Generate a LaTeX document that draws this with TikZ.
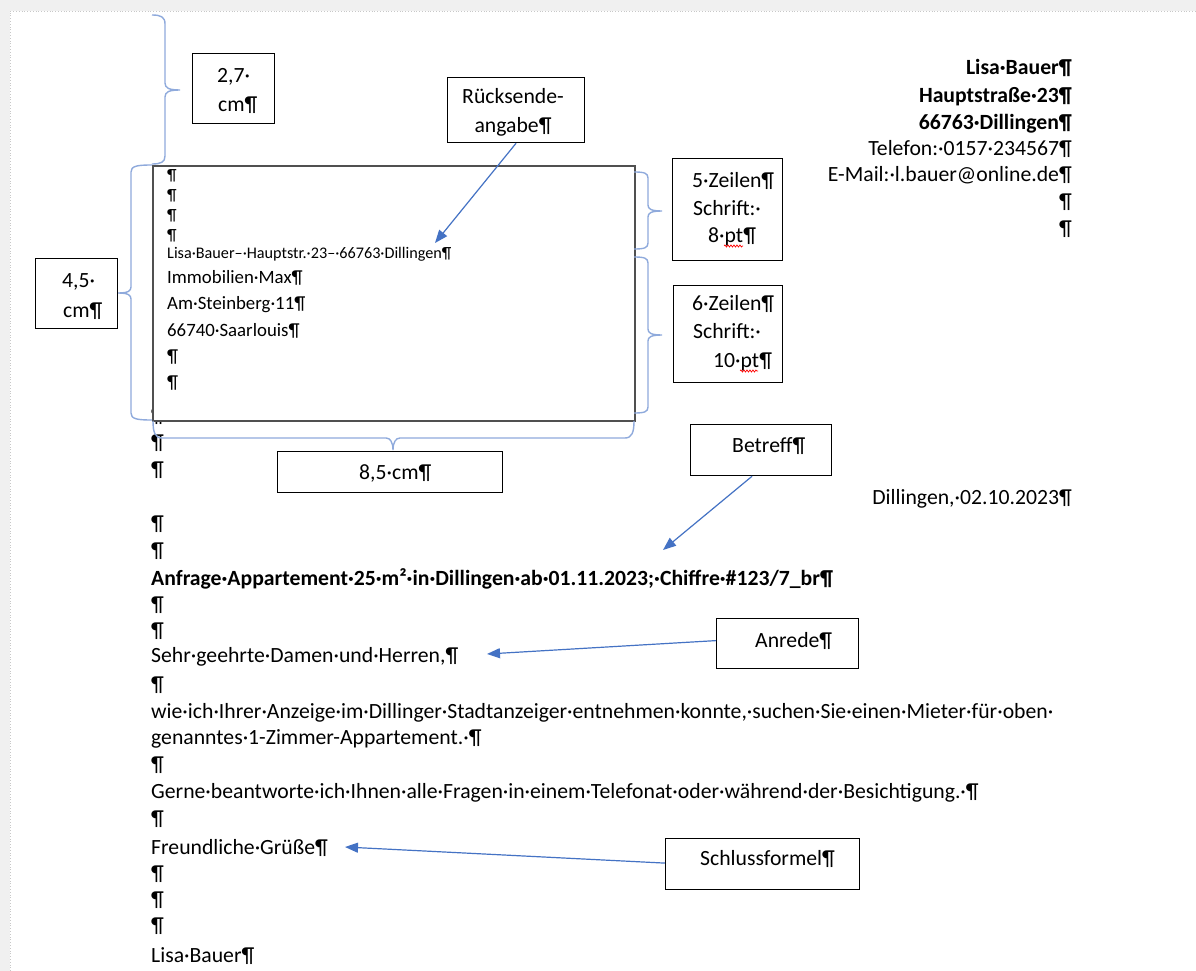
\documentclass[tikz,border=0pt]{standalone}
\usepackage{fontspec}
\setmainfont{Carlito}
\usetikzlibrary{arrows.meta,decorations.pathmorphing}
\definecolor{pagegrey}{HTML}{F0F0F0}
\definecolor{edgegrey}{HTML}{C8C8C8}
\definecolor{bracecol}{HTML}{8FAADC}
\definecolor{arrowcol}{HTML}{4472C4}
\definecolor{framecol}{HTML}{505050}
\begin{document}
\begin{tikzpicture}[x=1pt,y=-1pt,
  every node/.style={inner sep=0pt, font=\fontsize{21.7}{26}\selectfont},
  txt/.style={anchor=base west},
  rtxt/.style={anchor=base east},
  ctxt/.style={anchor=base},
  win/.style={font=\fontsize{18.8}{23}\selectfont},
  small/.style={font=\fontsize{16.2}{19}\selectfont},
  bold/.style={font=\fontsize{21.7}{26}\selectfont\bfseries},
  lbox/.style={draw=black, line width=1.2pt, anchor=north west},
  brace/.style={draw=bracecol, line width=1.4pt},
  conn/.style={draw=arrowcol, line width=1.2pt, -{Triangle[length=13pt,width=10pt]}},
  wavy/.style={draw=red, line width=0.7pt, decorate, decoration={snake, amplitude=1pt, segment length=3pt}}
]
\useasboundingbox (0,0) rectangle (1196,971);
% page
\fill[pagegrey] (0,0) rectangle (1196,971);
\fill[white] (10,11) rectangle (1196,971);
\draw[edgegrey, dotted, line width=0.8pt] (10,971) -- (10,11) -- (1196,11);

% body paragraphs (left)
\node[txt] (q0) at (151,422) {¶};
\node[txt] (q1) at (151,449) {¶};
\node[txt] (q2) at (151,476) {¶};
\node[txt] (q3) at (151,530) {¶};
\node[txt] (q4) at (151,557) {¶};
\node[txt,bold] (betrefftext) at (151,585) {Anfrage·Appartement·25·m²·in·Dillingen·ab·01.11.2023;·Chiffre·\#123/7\_br¶};
\node[txt] (q5) at (151,611) {¶};
\node[txt] (q6) at (151,637) {¶};
\node[txt] (anredetext) at (151,662) {Sehr·geehrte·Damen·und·Herren,¶};
\node[txt] (q7) at (151,691) {¶};
\node[txt] (l1) at (151,718) {wie·ich·Ihrer·Anzeige·im·Dillinger·Stadtanzeiger·entnehmen·konnte,·suchen·Sie·einen·Mieter·für·oben·};
\node[txt] (l2) at (151,744) {genanntes·1-Zimmer-Appartement.·¶};
\node[txt] (q8) at (151,771) {¶};
\node[txt] (l3) at (151,798) {Gerne·beantworte·ich·Ihnen·alle·Fragen·in·einem·Telefonat·oder·während·der·Besichtigung.·¶};
\node[txt] (q9) at (151,825) {¶};
\node[txt] (grusstext) at (151,854) {Freundliche·Grüße¶};
\node[txt] (q10) at (151,880) {¶};
\node[txt] (q11) at (151,906) {¶};
\node[txt] (q12) at (151,932) {¶};
\node[txt] (sig) at (151,962) {Lisa·Bauer¶};

% sender block
\node[rtxt,bold] (s1) at (1072,75) {Lisa·Bauer¶};
\node[rtxt,bold] (s2) at (1072,103) {Hauptstraße·23¶};
\node[rtxt,bold] (s3) at (1072,129) {66763·Dillingen¶};
\node[rtxt] (s4) at (1072,155) {Telefon:·0157·234567¶};
\node[rtxt] (s5) at (1072,181) {E-Mail:·l.bauer@online.de¶};
\node[rtxt] (s6) at (1072,208) {¶};
\node[rtxt] (s7) at (1072,235) {¶};
\node[rtxt] (date) at (1072,504) {Dillingen,·02.10.2023¶};

% address window
\node[draw=framecol, line width=1.6pt, fill=white, anchor=north west, minimum width=482pt, minimum height=255pt] (window) at (152,165) {};
\node[txt,small] (w1) at (167,180) {¶};
\node[txt,small] (w2) at (167,200) {¶};
\node[txt,small] (w3) at (167,220) {¶};
\node[txt,small] (w4) at (167,240) {¶};
\node[txt,small] (w5) at (167,258) {Lisa·Bauer–·Hauptstr.·23–·66763·Dillingen¶};
\node[txt,win] (w6) at (167,283) {Immobilien·Max¶};
\node[txt,win] (w7) at (167,309) {Am·Steinberg·11¶};
\node[txt,win] (w8) at (167,336) {66740·Saarlouis¶};
\node[txt,win] (w9) at (167,362) {¶};
\node[txt,win] (w10) at (167,388) {¶};

% braces
\draw[brace] (152,15) .. controls (161,15) and (165,17) .. (165,24) -- (165,83)
  .. controls (165,88) and (169,90) .. (180,90) .. controls (169,90) and (165,92) .. (165,97)
  -- (165,156) .. controls (165,162) and (161,164) .. (152,164);
\draw[brace] (152,165) .. controls (137,165) and (131,166) .. (131,172) -- (131,287)
  .. controls (131,291) and (128,293) .. (118,293) .. controls (128,293) and (131,295) .. (131,299)
  -- (131,413) .. controls (131,419) and (137,420) .. (152,420);
\draw[brace] (634,172) .. controls (644,172) and (648,173) .. (648,178) -- (648,205)
  .. controls (648,209) and (651,211) .. (662,211) .. controls (651,211) and (648,213) .. (648,217)
  -- (648,243) .. controls (648,248) and (644,249) .. (634,249);
\draw[brace] (634,257) .. controls (644,257) and (648,258) .. (648,263) -- (648,329)
  .. controls (648,333) and (651,335) .. (662,335) .. controls (651,335) and (648,337) .. (648,341)
  -- (648,407) .. controls (648,412) and (644,413) .. (634,413);
\draw[brace] (153,421) .. controls (153,432) and (155,438) .. (162,438) -- (386,438)
  .. controls (390,438) and (393,442) .. (393,450) .. controls (393,442) and (396,438) .. (400,438)
  -- (625,438) .. controls (632,438) and (634,432) .. (634,421);

% label boxes
\node[lbox, minimum width=82pt, minimum height=70pt] (b27) at (192,53) {};
\node[txt] (b27a) at (217,83) {2,7·};
\node[txt] (b27b) at (218,112) {cm¶};

\node[lbox, minimum width=82pt, minimum height=70pt] (b45) at (35,258) {};
\node[txt] (b45a) at (62,287) {4,5·};
\node[txt] (b45b) at (63,317) {cm¶};

\node[lbox, minimum width=137pt, minimum height=65pt] (rueck) at (447,77) {};
\node[ctxt] (rueckA) at (513,104) {Rücksende-};
\node[ctxt] (rueckB) at (513,132) {angabe¶};

\node[lbox, minimum width=110pt, minimum height=102pt] (z5) at (672,158) {};
\node[txt] (z5a) at (692,187) {5·Zeilen¶};
\node[txt] (z5b) at (693,215) {Schrift:·};
\node[txt] (z5c) at (708,242) {8·pt¶};
\draw[wavy] (724,246) -- (743,246);

\node[lbox, minimum width=109pt, minimum height=97pt] (z6) at (673,285) {};
\node[txt] (z6a) at (692,310) {6·Zeilen¶};
\node[txt] (z6b) at (693,338) {Schrift:·};
\node[txt] (z6c) at (713,367) {10·pt¶};
\draw[wavy] (740,371) -- (758,371);

\node[lbox, minimum width=225pt, minimum height=41pt] (b85) at (277,451) {};
\node[txt] (b85a) at (359,479) {8,5·cm¶};

\node[lbox, minimum width=141pt, minimum height=51pt] (betreff) at (690,424) {};
\node[txt] (betreffA) at (732,452) {Betreff¶};

\node[lbox, minimum width=142pt, minimum height=50pt] (anrede) at (716,618) {};
\node[txt] (anredeA) at (755,647) {Anrede¶};

\node[lbox, minimum width=194pt, minimum height=51pt] (schluss) at (665,838) {};
\node[txt] (schlussA) at (700,865) {Schlussformel¶};

% connectors
\coordinate (tR) at (435,243);
\coordinate (tB) at (663,550);
\coordinate (tA) at (487,654);
\coordinate (tS) at (345,847);
\draw[conn] (rueck.south) -- (tR);
\draw[conn] ([xshift=-9pt]betreff.south) -- (tB);
\draw[conn] ([yshift=3pt]anrede.west) -- (tA);
\draw[conn] ([yshift=1pt]schluss.west) -- (tS);
\end{tikzpicture}
\end{document}
